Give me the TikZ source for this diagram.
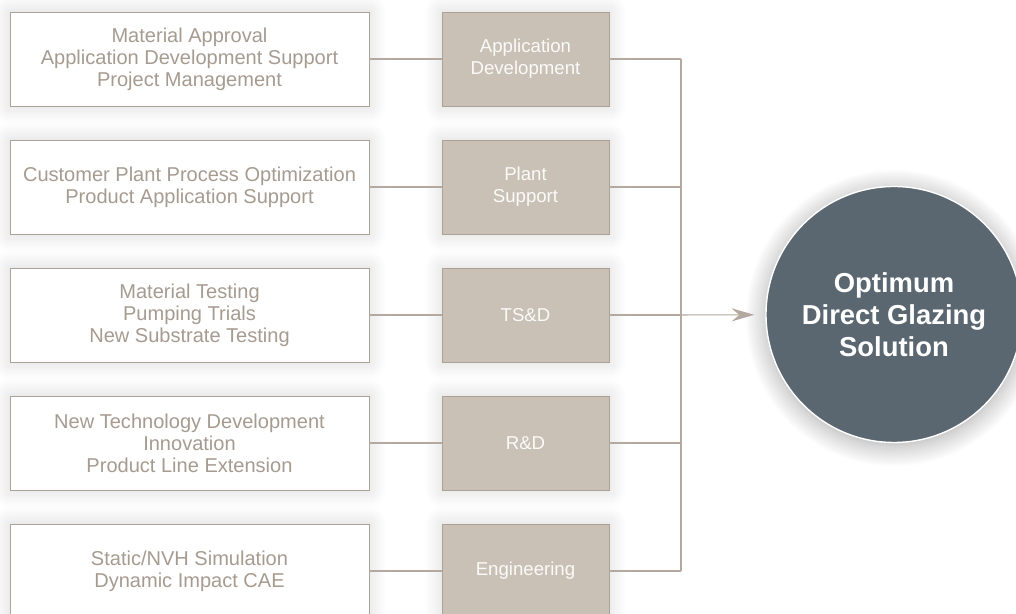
\documentclass[tikz,border=0pt]{standalone}
\usepackage{fontspec}
\setmainfont{Liberation Sans}
\usepackage{tikz}
\usetikzlibrary{positioning}
\usetikzlibrary{arrows.meta, shadows.blur}
\definecolor{rim}{HTML}{ADA297}
\definecolor{sand}{HTML}{C9C1B6}
\definecolor{ink}{HTML}{A69B90}
\definecolor{slate}{HTML}{5A6670}
\definecolor{wire}{HTML}{B3A99F}
\tikzstyle{task} = [rectangle, minimum width=7.18cm, minimum height=1.88cm, align=center, draw=rim, fill=white, text=ink, font=\fontsize{11.4}{12.6}\selectfont, blur shadow={shadow xshift=0pt, shadow yshift=0pt, shadow blur radius=10pt, shadow blur steps=14, shadow opacity=16}]
\tikzstyle{unit} = [rectangle, minimum width=3.34cm, minimum height=1.88cm, align=center, draw=rim, fill=sand, text=white!92!sand, font=\fontsize{10.6}{12.6}\selectfont, blur shadow={shadow xshift=0pt, shadow yshift=0pt, shadow blur radius=10pt, shadow blur steps=14, shadow opacity=16}]
\tikzstyle{goal} = [circle, minimum size=5.12cm, inner sep=0pt, draw=white, line width=0.8pt, fill=slate, text=white, align=center, font=\fontsize{15.6}{18.2}\selectfont\bfseries, blur shadow={shadow xshift=0pt, shadow yshift=-2pt, shadow blur radius=12pt, shadow blur steps=16, shadow opacity=35}]
\tikzstyle{link} = [draw=wire, line width=0.6pt]
\tikzstyle{arrow} = [link, -{Stealth[length=13pt, width=7.5pt, inset=4.5pt]}, shorten >=0.22cm]

\begin{document}
\begin{tikzpicture}
      \useasboundingbox (0,0) rectangle (20.32,12.28);
      %%%%%%%%%%%%%%%%%%%%%%%%%%%%%%%%%%%%%%%
      \node[task] (t1) at (3.79,11.1) {Material Approval\\Application Development Support\\Project Management};
      \node[task] (t2) at (3.79,8.54) {Customer Plant Process Optimization\\Product Application Support};
      \node[task] (t3) at (3.79,5.98) {Material Testing\\Pumping Trials\\New Substrate Testing};
      \node[task] (t4) at (3.79,3.42) {New Technology Development\\Innovation\\Product Line Extension};
      \node[task] (t5) at (3.79,0.86) {Static/NVH Simulation\\Dynamic Impact CAE};
      %%%%%%%%%%%%%%%%%%%%%%%%%%%%%%%%%%%%%%%
      \node[unit] (u1) at (10.51,11.1) {Application\\Development};
      \node[unit] (u2) at (10.51,8.54) {Plant\\Support};
      \node[unit] (u3) at (10.51,5.98) {TS\&D};
      \node[unit] (u4) at (10.51,3.42) {R\&D};
      \node[unit] (u5) at (10.51,0.86) {Engineering};
      %%%%%%%%%%%%%%%%%%%%%%%%%%%%%%%%%%%%%%%
      \node[goal] (goal) at (17.88,5.99) {Optimum\\Direct Glazing\\Solution};
      \coordinate (bus) at (13.62,5.98);
      %\coordinate (bus top) at (13.62,11.1);
      \foreach \i in {1,...,5}
      {
        \draw[link] (t\i)--(u\i);
        \draw[link] (u\i)--(u\i.east -| bus);
      }
      \draw[link] (u1.east -| bus)--(u5.east -| bus);
      \draw[arrow] (bus)--(goal);
\end{tikzpicture}
\end{document}
